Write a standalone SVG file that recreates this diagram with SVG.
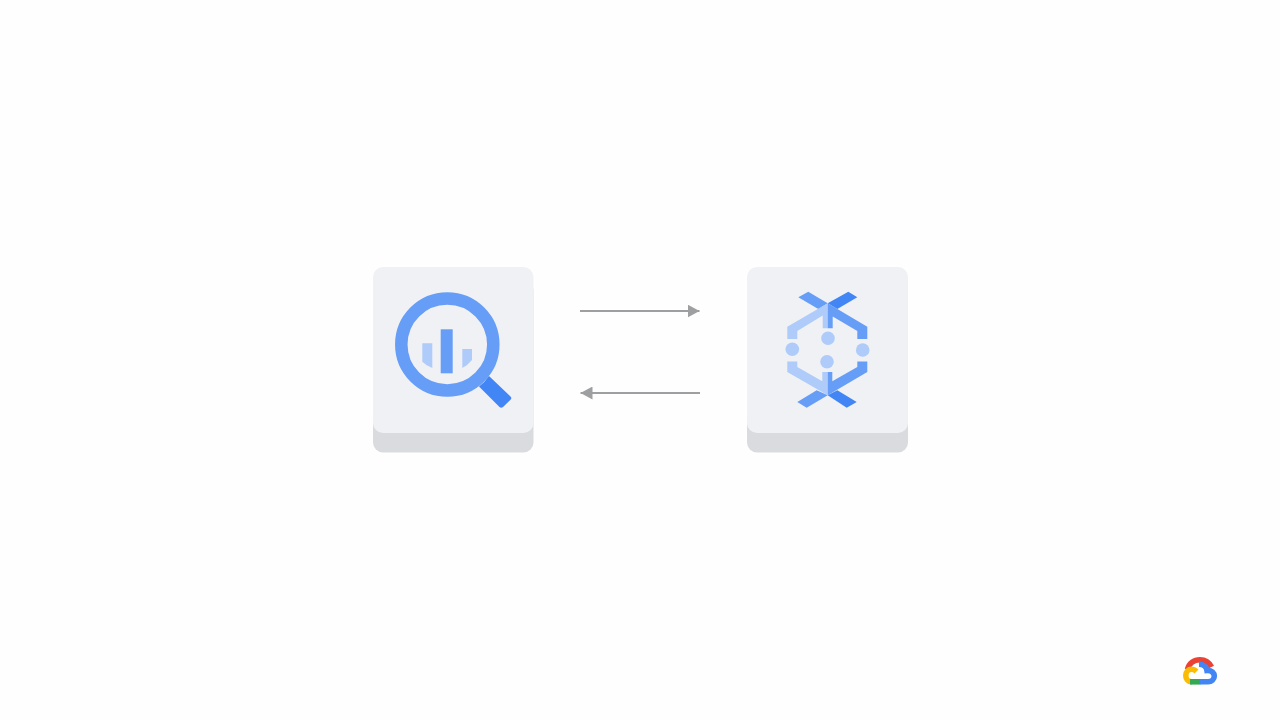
<svg xmlns="http://www.w3.org/2000/svg" width="1280" height="720" viewBox="0 0 1280 720">
<style>
.base{fill:#dadbdf}.top{fill:#f0f1f5}.l{fill:#aecbfa}.m{fill:#669df6}.d{fill:#4285f4}
.link{stroke:#9e9fa1;stroke-width:2;fill:none;marker-end:url(#arrow)}
.logo{fill:none;stroke-width:5.6}
</style>
<defs>
<marker id="arrow" markerUnits="userSpaceOnUse" markerWidth="12" markerHeight="13" refX="12" refY="6.5" orient="auto"><path d="M0 0L12 6.5L0 13Z" fill="#9e9fa1"/></marker>
</defs>
<rect width="1280" height="720" fill="#fefefe"/>
<g id="bigquery">
<rect class="base" x="373" y="280" width="160.500" height="172.500" rx="10"/>
<rect class="top" x="373" y="267" width="160.500" height="166" rx="10"/>
<circle cx="447.300" cy="344.500" r="46" fill="none" stroke="#669df6" stroke-width="12.500"/>
<path class="d" d="M489 376L510.700 396.700Q512 398 510.700 399.500L503 407Q501 408.500 499.500 407L479 386.500Q485 382 489 376Z"/>
<rect class="m" x="440.700" y="329.300" width="12" height="44"/>
<path class="l" d="M422.300 343.300H432.300V368Q426 365.500 422.300 361.700Z"/>
<path class="l" d="M462.300 349H472V360Q468 365 462.300 368Z"/>
</g>
<g id="dataflow">
<rect class="base" x="747" y="280" width="161" height="172.500" rx="10"/>
<rect class="top" x="747" y="267" width="161" height="166" rx="10"/>
<path class="m" d="M798.300 297.300L808.300 291.700L827.700 303.300L818.300 309Z"/>
<path class="d" d="M827.700 303.300L848.300 291.700L857.300 297.300L837.300 309Z"/>
<path class="l" d="M827.700 303.300V328.300H822.700V315.500L797.300 331V339H787.300V326.700Z"/>
<path class="m" d="M827.700 303.300L867.300 326.700V339H857.300V331L832.700 316.500V328.300H827.700Z"/>
<path class="l" d="M787.300 361.500H797.300V367L822.300 381.300V372H827.700V395.300L787.300 372Z"/>
<path class="m" d="M867.300 361.500H857.300V367L832.300 381.300V372H827.700V395.300L867.300 372Z"/>
<path class="m" d="M797.300 402L816.700 390.300L827.700 395.300L806.700 407.700Z"/>
<path class="d" d="M827.700 395.300L837.300 390.300L856.700 402L846.700 407.700Z"/>
<circle class="l" cx="828" cy="338.300" r="6.800"/>
<circle class="l" cx="792.300" cy="349.300" r="6.800"/>
<circle class="l" cx="862.700" cy="350" r="6.800"/>
<circle class="l" cx="827" cy="361.700" r="6.800"/>
</g>
<g id="connectors">
<path class="link" d="M580 311H699.500"/>
<path class="link" d="M700 393H580.500"/>
</g>
<g id="logo" class="logo">
<path stroke="#ea4335" d="M1187.500 669.500C1189 663 1194 659.700 1200 659.700C1205.500 659.700 1209.500 663 1211.500 667"/>
<path stroke="#fbbc04" d="M1192 681.800H1191.500C1188 681.800 1185.800 679 1185.800 675.500C1185.800 671.500 1188.500 669.300 1191.500 669.300C1193.500 669.300 1195 670 1196.500 671.500"/>
<path stroke="#34a853" d="M1190 681.800H1200.500"/>
<path stroke="#4285f4" d="M1199 664.300C1203 664.300 1206.500 667 1207 670.500C1212 670 1214.300 673.500 1214.300 676C1214.300 679.500 1211.500 681.800 1208 681.800H1200"/>
</g>
</svg>
